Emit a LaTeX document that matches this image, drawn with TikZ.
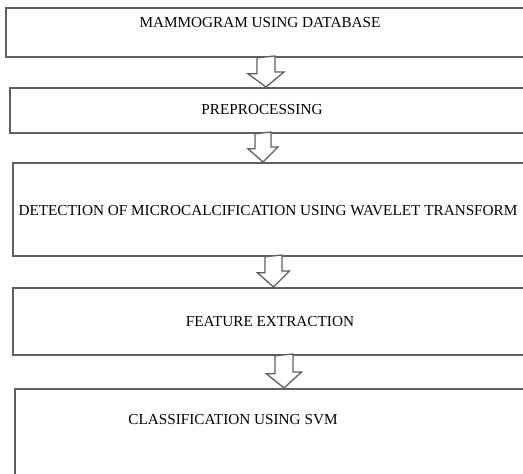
\documentclass[tikz,border=0pt]{standalone}
\usepackage{fontspec}
\setmainfont{Liberation Serif}
\definecolor{edge}{RGB}{95,95,95}
\begin{document}
\begin{tikzpicture}[x=1bp,y=-1bp,
  box/.style={draw=edge,line width=1.8bp,rectangle,inner sep=0pt,anchor=north west},
  lbl/.style={font=\fontsize{15.3}{17}\selectfont,inner sep=0pt,text=black},
  hollow/.style={draw=edge,line width=1.3bp,fill=white,line join=miter}]
\useasboundingbox[fill=white] (0,0) rectangle (523,474);
\clip (0,0) rectangle (523,474);
% boxes
\node[box,minimum width=530bp,minimum height=49bp] (b1) at (5,7) {};
\node[box,minimum width=530bp,minimum height=45bp] (b2) at (9,87) {};
\node[box,minimum width=530bp,minimum height=93bp] (b3) at (12,162) {};
\node[box,minimum width=530bp,minimum height=67bp] (b4) at (12,287) {};
\node[box,minimum width=530bp,minimum height=110bp] (b5) at (14,388) {};
% texts
\node[lbl] (t1) at (260,23) {MAMMOGRAM USING DATABASE};
\node[lbl] (t2) at (262,110) {PREPROCESSING};
\node[lbl] (t3) at (268,211) {DETECTION OF MICROCALCIFICATION USING WAVELET TRANSFORM};
\node[lbl] (t4) at (270,322) {FEATURE EXTRACTION};
\node[lbl] (t5) at (233,420) {CLASSIFICATION USING SVM};
% arrow anchor points
\coordinate (a1s) at (b1.south -| 266,0);
\coordinate (a1e) at (b2.north -| 266,0);
\coordinate (a2s) at (b2.south -| 263,0);
\coordinate (a2e) at (b3.north -| 263,0);
\coordinate (a3s) at (b3.south -| 273.5,0);
\coordinate (a3e) at (b4.north -| 273.5,0);
\coordinate (a4s) at (b4.south -| 284,0);
\coordinate (a4e) at (b5.north -| 284,0);
% hollow block arrows: shaft half width, head half width, head length
\draw[hollow] (a1s) ++(-9,0) -- ++(0,16) -- ++(-9,0) -- (a1e) -- ++(18,-15) -- ++(-9,0) -- ++(0,-16) -- cycle;
\draw[hollow] (a2s) ++(-8,0) -- ++(0,15) -- ++(-7,0) -- (a2e) -- ++(15,-15) -- ++(-7,0) -- ++(0,-15) -- cycle;
\draw[hollow] (a3s) ++(-8.5,0) -- ++(0,16) -- ++(-7.5,0) -- (a3e) -- ++(16,-16) -- ++(-7.5,0) -- ++(0,-16) -- cycle;
\draw[hollow] (a4s) ++(-9,0) -- ++(0,18) -- ++(-8.5,0) -- (a4e) -- ++(17.5,-16) -- ++(-8.5,0) -- ++(0,-18) -- cycle;
\end{tikzpicture}
\end{document}
